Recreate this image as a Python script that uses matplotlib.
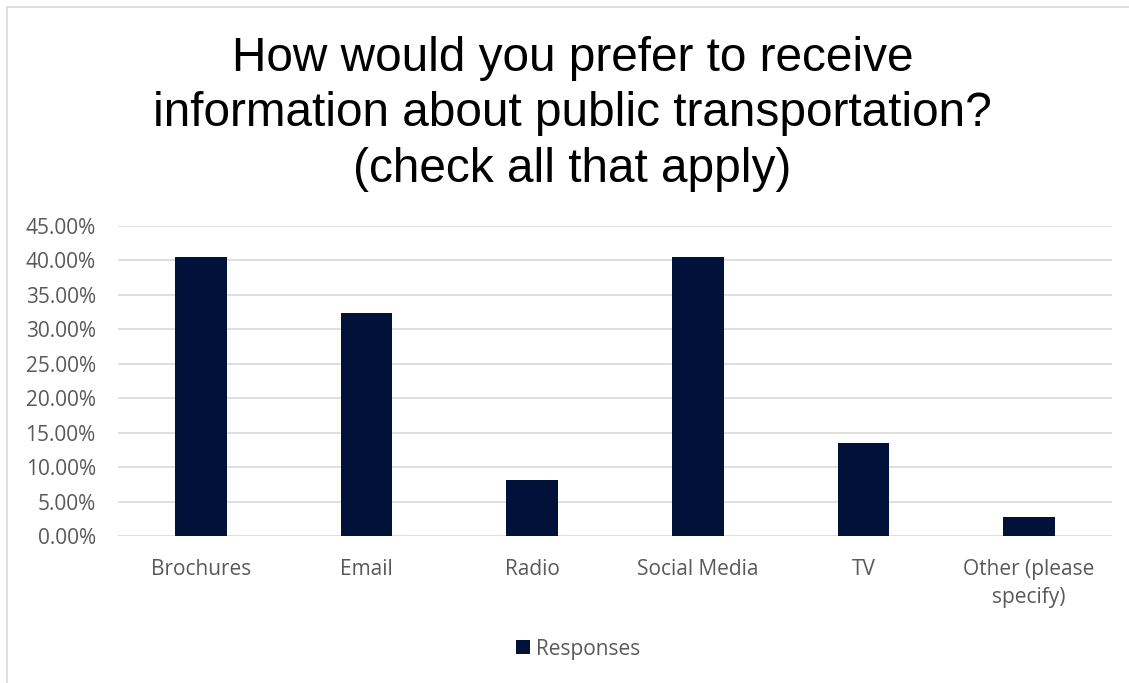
import matplotlib
matplotlib.use("Agg")
import matplotlib.pyplot as plt
from matplotlib.patches import Rectangle
from matplotlib.ticker import FuncFormatter, MultipleLocator

categories = ["Brochures", "Email", "Radio", "Social Media", "TV", "Other (please\nspecify)"]
values = [40.54, 32.43, 8.11, 40.54, 13.51, 2.70]
series_name = "Responses"
title = "How would you prefer to receive\ninformation about public transportation?\n(check all that apply)"

W, H = 1129, 683
fig = plt.figure(figsize=(W / 100, H / 100), dpi=100)
fig.patch.set_facecolor("white")

# chart border
fig.add_artist(Rectangle((7 / W, -0.01), 1.05, 1 - 7 / H + 0.01, transform=fig.transFigure,
                         fill=False, edgecolor="#d9d9d9", linewidth=1.2))

left, right = 118 / W, 1112 / W
bottom, top = 1 - 536 / H, 1 - 226 / H
ax = fig.add_axes([left, bottom, right - left, top - bottom])

bar_color = "#00113a"
x = list(range(len(categories)))
ax.bar(x, values, width=0.31, color=bar_color, zorder=3, label=series_name)
ax.set_xlim(-0.5, len(categories) - 0.5)
ax.set_ylim(0, 45)
ax.yaxis.set_major_locator(MultipleLocator(5))
ax.yaxis.set_major_formatter(FuncFormatter(lambda v, p: f"{v:.2f}%"))
ax.grid(axis="y", color="#d9d9d9", linewidth=1.2, zorder=0)
for s in ax.spines.values():
    s.set_visible(False)
ax.tick_params(axis="both", length=0, labelsize=15, labelcolor="#595959")
ax.tick_params(axis="y", pad=16)
ax.tick_params(axis="x", pad=16.5)
ax.set_xticks(x)
ax.set_xticklabels(categories, fontfamily="Open Sans", linespacing=1.45)
for lab in ax.get_yticklabels():
    lab.set_fontfamily("Open Sans")

fig.text(0.5 + 8 / W, 1 - 114 / H, title, ha="center", va="center", fontsize=34.4,
         fontfamily="Liberation Sans", color="black", linespacing=1.3)

leg = fig.legend(loc="center", bbox_to_anchor=(0.5 + 14 / W, 1 - 649 / H), frameon=False,
                 prop={"family": "Open Sans", "size": 15}, handlelength=0.65, handleheight=0.65,
                 handletextpad=0.3)
for t in leg.get_texts():
    t.set_color("#595959")

fig.savefig("out.png", dpi=100, facecolor="white")
